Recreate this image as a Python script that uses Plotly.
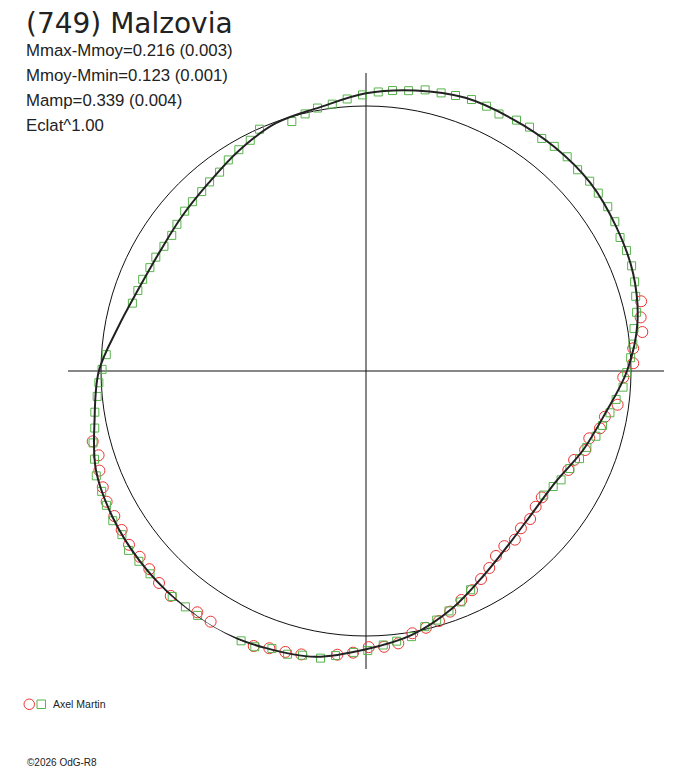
import plotly.graph_objects as go

# ---- data: rotational phase (0..1) and relative brightness radius (1 = mean) ----
green_phase = [0.007,0.015,0.024,0.033,0.042,0.050,0.059,0.068,0.076,0.086,0.094,0.103,0.111,0.120,0.129,0.138,0.146,0.155,0.164,0.173,0.181,0.190,0.199,0.207,0.216,0.225,0.234,0.242,0.251,0.260,0.268,0.277,0.286,0.294,0.303,0.312,0.321,0.331,0.338,0.347,0.429,0.438,0.447,0.456,0.464,0.473,0.482,0.490,0.499,0.507,0.517,0.525,0.535,0.543,0.552,0.561,0.569,0.578,0.587,0.596,0.604,0.613,0.622,0.630,0.639,0.647,0.656,0.665,0.674,0.682,0.691,0.700,0.709,0.717,0.726,0.735,0.743,0.751,0.760,0.795,0.804,0.812,0.821,0.829,0.838,0.847,0.855,0.865,0.873,0.882,0.890,0.899,0.908,0.917,0.926,0.934,0.954,0.963,0.971,0.980,0.989,0.998]
green_flux = [1.054,1.063,1.070,1.084,1.087,1.093,1.099,1.098,1.092,1.104,1.108,1.100,1.106,1.109,1.102,1.107,1.104,1.103,1.095,1.083,1.083,1.078,1.068,1.056,1.045,1.024,1.012,1.000,0.984,0.972,0.950,0.934,0.916,0.902,0.882,0.871,0.853,0.843,0.830,0.818,0.915,0.942,0.958,0.977,0.990,1.017,1.026,1.036,1.055,1.063,1.080,1.097,1.099,1.109,1.106,1.122,1.122,1.125,1.129,1.120,1.121,1.122,1.125,1.118,1.118,1.123,1.109,1.110,1.103,1.096,1.092,1.077,1.065,1.046,1.035,1.019,1.009,0.996,0.982,0.918,0.913,0.911,0.904,0.902,0.896,0.894,0.903,0.912,0.915,0.918,0.926,0.932,0.951,0.963,0.974,0.997,0.982,0.997,1.009,1.015,1.029,1.042]

red_phase = [0.2105,0.2193,0.2277,0.2365,0.2454,0.2539,0.2712,0.2801,0.2882,0.2966,0.3051,0.3143,0.3224,0.3492,0.3574,0.3668,0.3762,0.3849,0.3936,0.4025,0.4110,0.4196,0.4283,0.4372,0.4464,0.4548,0.4635,0.4722,0.4812,0.4896,0.4984,0.5073,0.5160,0.5357,0.5445,0.5534,0.5617,0.5708,0.5796,0.5883,0.5971,0.6056,0.6138,0.6231,0.6321,0.6406,0.6493,0.6582,0.6668,0.6757,0.6838,0.6931,0.7014,0.7099]
red_flux = [1.071,1.056,1.053,1.012,1.009,0.971,0.958,0.918,0.909,0.880,0.879,0.854,0.850,0.817,0.820,0.834,0.833,0.849,0.842,0.853,0.877,0.897,0.919,0.936,0.962,0.983,0.995,1.005,1.035,1.043,1.042,1.064,1.076,1.097,1.103,1.108,1.121,1.129,1.131,1.113,1.111,1.129,1.124,1.118,1.108,1.105,1.109,1.100,1.096,1.096,1.086,1.074,1.058,1.065]

# fitted light curve, read every 10 degrees of phase
fit_phase = [i / 36 for i in range(37)]
fit_flux = [1.048,1.075,1.097,1.100,1.105,1.105,1.090,1.073,1.040,0.985,0.917,0.872,0.830,0.825,0.846,0.890,0.953,1.010,
            1.050,1.095,1.112,1.126,1.122,1.115,1.104,1.085,1.040,1.008,0.950,0.912,0.899,0.907,0.925,0.960,0.995,1.010,1.048]

title = "(749) Malzovia"
info_lines = ["Mmax-Mmoy=0.216 (0.003)", "Mmoy-Mmin=0.123 (0.001)", "Mamp=0.339 (0.004)", "Eclat^1.00"]
observer = "Axel Martin"
copyright_txt = "\u00a92026 OdG-R8"

# page is shown with an 8px body margin: figure fills the rest of the 688x768 window
OFF = 8
W, H = 688 - OFF, 768 - OFF
def px(x): return (x - OFF) / W
def py(y): return 1 - (y - OFF) / H

fig = go.Figure()
fig.add_trace(go.Scatterpolar(theta=[p * 360 for p in red_phase], r=red_flux, mode="markers",
                              marker=dict(symbol="circle-open", size=11, color="#ec3434", line=dict(width=1))))
fig.add_trace(go.Scatterpolar(theta=[p * 360 for p in green_phase], r=green_flux, mode="markers",
                              marker=dict(symbol="square-open", size=8, color="#58b44c", line=dict(width=1))))
fig.add_trace(go.Scatterpolar(theta=[p * 360 for p in fit_phase], r=fit_flux, mode="lines",
                              line=dict(color="#222222", width=2, shape="spline", smoothing=1)))

ann = [dict(x=px(24), y=py(23), text=title, font=dict(family="DejaVu Sans", size=28, color="#222222"))]
for i, t in enumerate(info_lines):
    ann.append(dict(x=px(24), y=py(50.5 + 25 * i), text=t, font=dict(family="Liberation Sans", size=16.8, color="#222222")))
ann.append(dict(x=px(51), y=py(704), text=observer, font=dict(family="Liberation Sans", size=10.5, color="#222222")))
ann.append(dict(x=px(25), y=py(762), text=copyright_txt, font=dict(family="Liberation Sans", size=10, color="#222222")))
for a in ann:
    a.update(xref="paper", yref="paper", xanchor="left", yanchor="middle", showarrow=False)

shapes = [
    dict(type="circle", xref="paper", yref="paper", x0=px(24), x1=px(34.5), y0=py(709.5), y1=py(699),
         line=dict(color="#ec3434", width=1)),
    dict(type="rect", xref="paper", yref="paper", x0=px(37), x1=px(45.5), y0=py(708.5), y1=py(700),
         line=dict(color="#58b44c", width=1)),
]

fig.update_layout(
    width=W, height=H, margin=dict(l=0, r=0, t=0, b=0), showlegend=False,
    paper_bgcolor="white", annotations=ann, shapes=shapes,
    polar=dict(
        domain=dict(x=[px(68), px(664)], y=[py(669), py(73)]),
        bgcolor="white",
        angularaxis=dict(rotation=90, direction="clockwise", tickvals=[0, 90, 180, 270],
                         showticklabels=False, ticks="", showline=False,
                         gridcolor="#111111", gridwidth=1),
        radialaxis=dict(range=[0, 298 / 265], tickvals=[1], showticklabels=False, ticks="",
                        showline=False, gridcolor="#111111", gridwidth=1),
    ),
)
fig.write_html("out.html")
